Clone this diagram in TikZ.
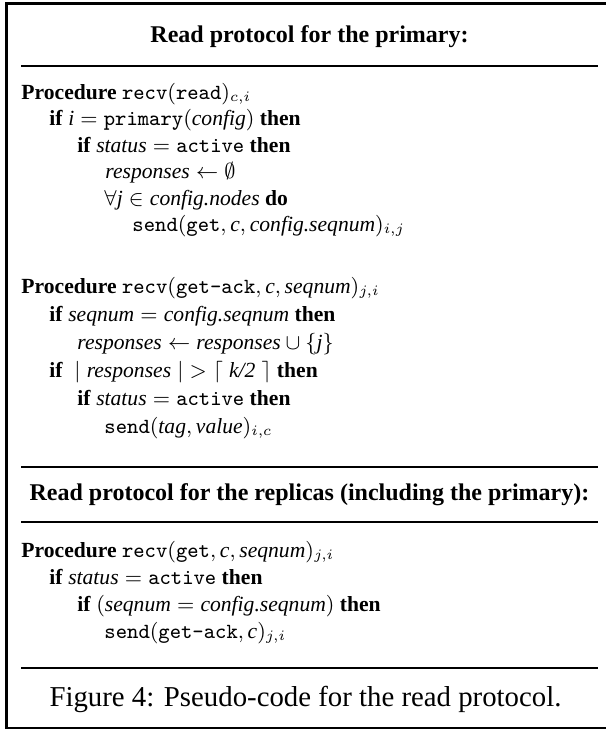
\documentclass[tikz,border=0pt]{standalone}
\usepackage{fontspec}
\setmainfont{Liberation Serif}
\usepackage{amsmath,amssymb}

\tikzset{
  codeline/.style={anchor=base west, inner sep=0pt, font=\fontsize{9}{11}\selectfont},
  headline/.style={anchor=base, inner sep=0pt, font=\fontsize{10}{12}\selectfont\bfseries},
  rulebar/.style={line width=0.85pt},
  framebar/.style={line width=1.25pt}
}

\begin{document}
\begin{tikzpicture}[x=0.41667pt,y=-0.41667pt]
\useasboundingbox (0,0) rectangle (606,729);
\draw [framebar] (606,3.5) -- (6.5,3.5) -- (6.5,728) -- (606,728);

\node[headline] (headA) at (309.5,42) {Read protocol for the primary:};
\draw [rulebar] (21,66) -- (598,66);

% primary, read
\node[codeline] (pa) at (21,99) {\textbf{Procedure} $\texttt{recv}(\texttt{read})_{c,i}$};
\node[codeline] (pb) at (49,125.5) {\textbf{if} $\textit{i} = \texttt{primary}(\textit{config})$ \textbf{then}};
\node[codeline] (pc) at (77,152) {\textbf{if} $\textit{status} = \texttt{active}$ \textbf{then}};
\node[codeline] (pd) at (105,178.5) {$\textit{responses} \leftarrow \emptyset$};
\node[codeline] (pe) at (104,205) {$\forall \textit{j} \in \textit{config.nodes}$ \textbf{do}};
\node[codeline] (pf) at (132,231.5) {$\texttt{send}(\texttt{get}, \textit{c}, \textit{config.seqnum})_{i,j}$};

% primary, get-ack
\node[codeline] (qa) at (21,293) {\textbf{Procedure} $\texttt{recv}(\texttt{get-ack}, \textit{c}, \textit{seqnum})_{j,i}$};
\node[codeline] (qb) at (49,321) {\textbf{if} $\textit{seqnum} = \textit{config.seqnum}$ \textbf{then}};
\node[codeline] (qc) at (77,349) {$\textit{responses} \leftarrow \textit{responses} \cup \{\textit{j}\}$};
\node[codeline] (qd) at (49,377) {\textbf{if} $\;\mid \textit{responses} \mid\; > \lceil\; \textit{k/2}\; \rceil$ \textbf{then}};
\node[codeline] (qe) at (77,405) {\textbf{if} $\textit{status} = \texttt{active}$ \textbf{then}};
\node[codeline] (qf) at (104,433) {$\texttt{send}(\textit{tag}, \textit{value})_{i,c}$};

\draw [rulebar] (21,467) -- (598,467);
\node[headline] (headB) at (309.5,500) {Read protocol for the replicas (including the primary):};
\draw [rulebar] (21,522) -- (598,522);

% replicas, get
\node[codeline] (ra) at (21,557) {\textbf{Procedure} $\texttt{recv}(\texttt{get}, \textit{c}, \textit{seqnum})_{j,i}$};
\node[codeline] (rb) at (49,584) {\textbf{if} $\textit{status} = \texttt{active}$ \textbf{then}};
\node[codeline] (rc) at (77,611) {\textbf{if} $(\textit{seqnum} = \textit{config.seqnum})$ \textbf{then}};
\node[codeline] (rd) at (104,638) {$\texttt{send}(\texttt{get-ack}, \textit{c})_{j,i}$};

\draw [rulebar] (21,668) -- (598,668);
\node[anchor=base, inner sep=0pt, font=\fontsize{12}{14}\selectfont] (caption) at (305.5,706) {Figure 4: Pseudo-code for the read protocol.};

\end{tikzpicture}
\end{document}
